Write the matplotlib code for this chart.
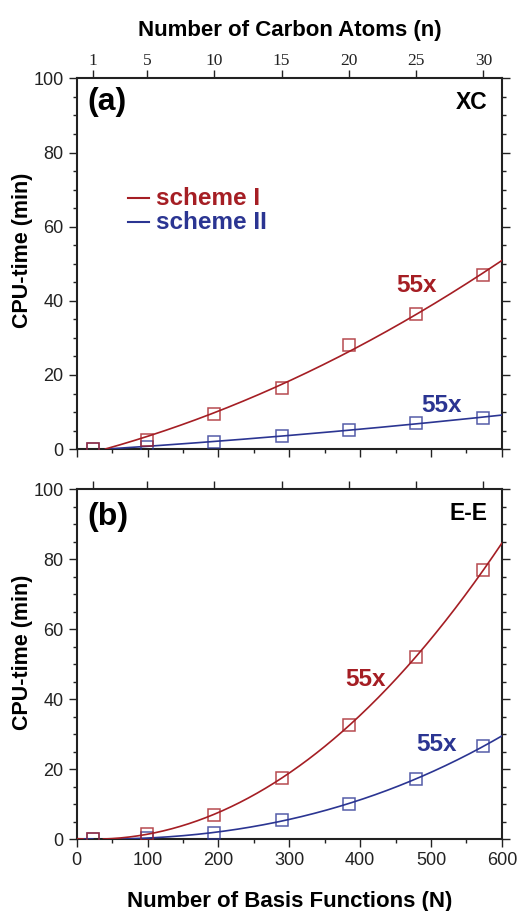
import matplotlib.pyplot as plt
import numpy as np
from matplotlib.ticker import MultipleLocator

# basis functions N for each carbon count n
n_carbon = [1, 5, 10, 15, 20, 25, 30]
n_basis = np.array([23, 99, 194, 289, 384, 479, 574])

xc_scheme1 = np.array([0.0, 2.5, 9.5, 16.5, 28.0, 36.5, 47.0])
xc_scheme2 = np.array([0.0, 0.5, 2.0, 3.5, 5.2, 7.0, 8.5])
ee_scheme1 = np.array([0.0, 1.3, 7.0, 17.5, 32.5, 52.0, 77.0])
ee_scheme2 = np.array([0.0, 0.3, 1.8, 5.3, 10.0, 17.3, 26.5])

RED = "#a51e24"
BLUE = "#2b3592"
SANS = ["Liberation Sans", "DejaVu Sans"]
SERIF = ["Liberation Serif", "DejaVu Serif"]

plt.rcParams["font.family"] = SANS

fig = plt.figure(figsize=(5.19, 9.11), dpi=100)
ax_a = fig.add_axes([0.148, 0.507, 0.819, 0.407])
ax_b = fig.add_axes([0.148, 0.079, 0.819, 0.384])


def draw_fit(ax, y, color, deg, z):
    coef = np.polyfit(n_basis, y, deg)
    xx = np.linspace(0, 600, 400)
    yy = np.polyval(coef, xx)
    yy = np.where(yy < 0, np.nan, yy)
    ax.plot(xx, yy, color=color, lw=1.2, zorder=z)
    ax.plot(n_basis, y, "s", ms=8.5, mfc="none", mec=color, mew=1.1, alpha=0.8, zorder=z + 1)


def style(ax, show_xlabels):
    ax.set_xlim(0, 600)
    ax.set_ylim(0, 100)
    ax.xaxis.set_major_locator(MultipleLocator(100))
    ax.xaxis.set_minor_locator(MultipleLocator(50))
    ax.yaxis.set_major_locator(MultipleLocator(20))
    ax.yaxis.set_minor_locator(MultipleLocator(5))
    ax.tick_params(which="both", direction="out", right=True, top=False,
                   labelsize=13, colors="#222222", width=1.0)
    ax.tick_params(which="major", length=6)
    ax.tick_params(which="minor", length=3)
    if not show_xlabels:
        ax.tick_params(axis="x", labelbottom=False)
    for s in ax.spines.values():
        s.set_linewidth(1.5)
        s.set_color("#222222")
    ax.set_ylabel("CPU-time (min)", fontsize=15.5, fontweight="bold")
    ax.yaxis.set_label_coords(-0.104, 0.535)

    top = ax.twiny()
    top.set_xlim(0, 600)
    top.set_xticks(n_basis)
    top.tick_params(direction="out", length=6, width=1.0, colors="#222222", pad=1)
    for s in top.spines.values():
        s.set_visible(False)
    return top


# panel (a)
top_a = style(ax_a, False)
top_a.set_xticklabels([str(v) for v in n_carbon], fontsize=12.5, family=SERIF)
top_a.set_xlabel("Number of Carbon Atoms (n)", fontsize=16, fontweight="bold", labelpad=12)
draw_fit(ax_a, xc_scheme2, BLUE, 2, 3)
draw_fit(ax_a, xc_scheme1, RED, 2, 5)
ax_a.text(0.025, 0.935, "(a)", transform=ax_a.transAxes, fontsize=23, fontweight="bold",
          ha="left", va="center")
ax_a.text(0.967, 0.935, "XC", transform=ax_a.transAxes, fontsize=16.5, fontweight="bold",
          ha="right", va="center")
ax_a.plot([72, 102], [67.7, 67.7], color=RED, lw=1.5)
ax_a.plot([72, 102], [61.2, 61.2], color=BLUE, lw=1.5)
ax_a.text(112, 67.7, "scheme I", color=RED, fontsize=17.5, fontweight="bold", va="center")
ax_a.text(112, 61.2, "scheme II", color=BLUE, fontsize=17.5, fontweight="bold", va="center")
ax_a.text(479, 44.2, "55x", color=RED, fontsize=17.5, fontweight="bold", ha="center", va="center")
ax_a.text(515, 11.9, "55x", color=BLUE, fontsize=17.5, fontweight="bold", ha="center", va="center")

# panel (b)
top_b = style(ax_b, True)
top_b.tick_params(labeltop=False)
ax_b.set_xlabel("Number of Basis Functions (N)", fontsize=16, fontweight="bold", labelpad=16)
draw_fit(ax_b, ee_scheme2, BLUE, 3, 3)
draw_fit(ax_b, ee_scheme1, RED, 3, 5)
ax_b.text(0.025, 0.92, "(b)", transform=ax_b.transAxes, fontsize=23, fontweight="bold",
          ha="left", va="center")
ax_b.text(0.967, 0.93, "E-E", transform=ax_b.transAxes, fontsize=16.5, fontweight="bold",
          ha="right", va="center")
ax_b.text(407, 45.7, "55x", color=RED, fontsize=17.5, fontweight="bold", ha="center", va="center")
ax_b.text(508, 27.0, "55x", color=BLUE, fontsize=17.5, fontweight="bold", ha="center", va="center")

fig.savefig("out.png", dpi=100)
